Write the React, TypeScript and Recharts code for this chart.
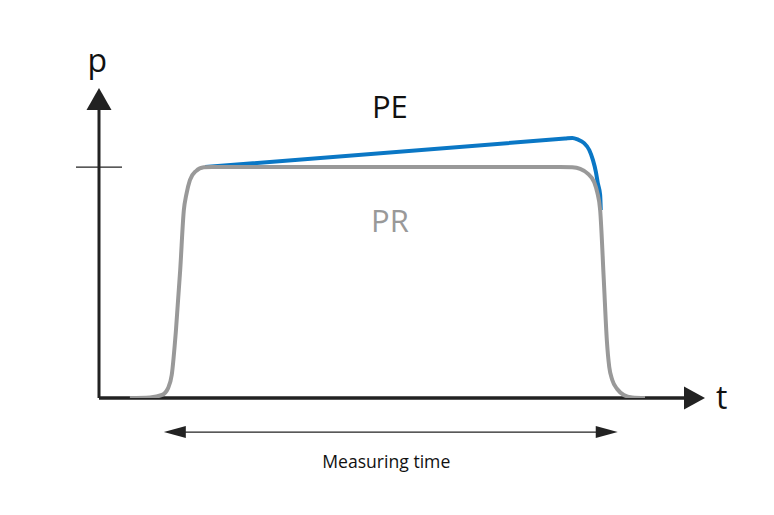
import React from 'react';
import { LineChart, Line, XAxis, YAxis, ReferenceLine, ReferenceDot } from 'recharts';

// PR: reference pressure curve (t, p)
const prData = [
  { t: 5.1, p: 0 },
  { t: 8.4, p: 0.2 },
  { t: 10.4, p: 1.0 },
  { t: 11.4, p: 3.2 },
  { t: 12.0, p: 7.4 },
  { t: 12.7, p: 21.9 },
  { t: 13.4, p: 41.3 },
  { t: 14.0, p: 60.6 },
  { t: 14.4, p: 65.5 },
  { t: 15.0, p: 70.3 },
  { t: 16.0, p: 73.2 },
  { t: 17.3, p: 74.4 },
  { t: 18.6, p: 74.5 },
  { t: 76.1, p: 74.5 },
  { t: 78.1, p: 74.4 },
  { t: 79.4, p: 73.9 },
  { t: 80.7, p: 72.3 },
  { t: 81.7, p: 69.7 },
  { t: 82.2, p: 66.5 },
  { t: 82.7, p: 60.6 },
  { t: 83.3, p: 38.1 },
  { t: 83.8, p: 18.7 },
  { t: 84.2, p: 10.0 },
  { t: 84.7, p: 5.8 },
  { t: 85.5, p: 2.9 },
  { t: 86.6, p: 1.0 },
  { t: 88.0, p: 0.2 },
  { t: 90.1, p: 0 },
];

// PE: measured pressure curve (t, p)
const peData = [
  { t: 17.5, p: 74.5 },
  { t: 76.9, p: 83.7 },
  { t: 78.1, p: 83.9 },
  { t: 79.0, p: 83.4 },
  { t: 80.0, p: 82.3 },
  { t: 80.9, p: 80.0 },
  { t: 81.5, p: 76.8 },
  { t: 82.0, p: 72.9 },
  { t: 82.3, p: 69.4 },
  { t: 82.7, p: 65.5 },
  { t: 82.8, p: 60.6 },
];

const setPoint = 74.5;
const measureStart = 10.7;
const measureEnd = 85.6;

const AXIS = '#222222';
const BLUE = '#0a77c5';
const GRAY = '#999999';
const FONT = '"Open Sans", "Noto Sans", sans-serif';

const ArrowRight = (w: number, h: number) => (props: any) => {
  const { cx, cy } = props;
  return <polygon points={`${cx},${cy} ${cx - w},${cy - h} ${cx - w},${cy + h}`} fill={AXIS} />;
};
const ArrowLeft = (w: number, h: number) => (props: any) => {
  const { cx, cy } = props;
  return <polygon points={`${cx},${cy} ${cx + w},${cy - h} ${cx + w},${cy + h}`} fill={AXIS} />;
};
const ArrowUp = (w: number, h: number) => (props: any) => {
  const { cx, cy } = props;
  return <polygon points={`${cx},${cy} ${cx - w},${cy + h} ${cx + w},${cy + h}`} fill={AXIS} />;
};
const TextShape = (txt: string, size: number, color: string, anchor: string = 'middle') => (props: any) => {
  const { cx, cy } = props;
  return (
    <text x={cx} y={cy} textAnchor={anchor} fontSize={size} fill={color} fontFamily={FONT}>
      {txt}
    </text>
  );
};

export default function App() {
  return (
    <div style={{ position: 'absolute', left: 0, top: 0, width: 774, height: 515, background: '#fff' }}>
      <LineChart width={774} height={515} margin={{ top: 88, right: 69, bottom: 117, left: 99 }}>
        <XAxis type="number" dataKey="t" domain={[0, 100]} hide allowDataOverflow />
        <YAxis type="number" dataKey="p" domain={[0, 100]} hide allowDataOverflow />
        {/* axes */}
        <ReferenceLine segment={[{ x: 0, y: 0 }, { x: 97.5, y: 0 }]} stroke={AXIS} strokeWidth={3.5} ifOverflow="visible" />
        <ReferenceLine segment={[{ x: 0, y: 0 }, { x: 0, y: 93.5 }]} stroke={AXIS} strokeWidth={3} ifOverflow="visible" />
        <ReferenceDot x={100} y={0} r={1} shape={ArrowRight(21, 11.5)} ifOverflow="visible" />
        <ReferenceDot x={0} y={100} r={1} shape={ArrowUp(12.5, 22)} ifOverflow="visible" />
        <ReferenceLine segment={[{ x: -3.8, y: setPoint }, { x: 3.8, y: setPoint }]} stroke={AXIS} strokeWidth={1.2} ifOverflow="visible" />
        {/* measuring time arrow */}
        <ReferenceLine segment={[{ x: measureStart + 2, y: -11 }, { x: measureEnd - 2, y: -11 }]} stroke={AXIS} strokeWidth={1.4} ifOverflow="visible" />
        <ReferenceDot x={measureStart} y={-11} r={1} shape={ArrowLeft(22, 6)} ifOverflow="visible" />
        <ReferenceDot x={measureEnd} y={-11} r={1} shape={ArrowRight(22, 6)} ifOverflow="visible" />
        {/* curves */}
        <Line data={peData} dataKey="p" type="monotone" stroke={BLUE} strokeWidth={4} dot={false} activeDot={false} isAnimationActive={false} />
        <Line data={prData} dataKey="p" type="monotone" stroke={GRAY} strokeWidth={4} dot={false} activeDot={false} isAnimationActive={false} />
        {/* labels */}
        <ReferenceDot x={-0.3} y={105.2} r={1} shape={TextShape('p', 32, '#111')} ifOverflow="visible" />
        <ReferenceDot x={101.8} y={-3.5} r={1} shape={TextShape('t', 32, '#111', 'start')} ifOverflow="visible" />
        <ReferenceDot x={48.0} y={90.3} r={1} shape={TextShape('PE', 31, '#111')} ifOverflow="visible" />
        <ReferenceDot x={48.0} y={53.5} r={1} shape={TextShape('PR', 31, GRAY)} ifOverflow="visible" />
        <ReferenceDot x={47.4} y={-22.6} r={1} shape={TextShape('Measuring time', 17.6, '#111')} ifOverflow="visible" />
      </LineChart>
    </div>
  );
}
